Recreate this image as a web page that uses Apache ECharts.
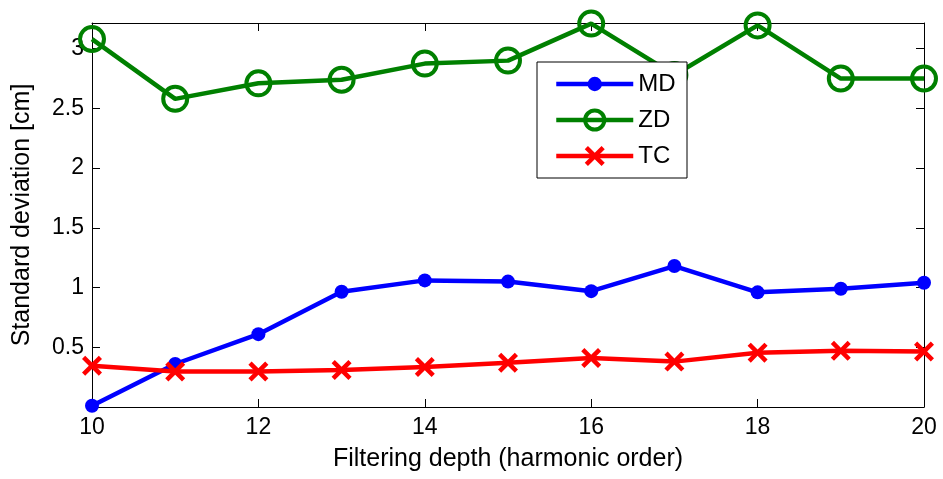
<!DOCTYPE html>
<html>
<head>
<meta charset="utf-8">
<script src="https://cdn.jsdelivr.net/npm/echarts@6/dist/echarts.min.js"></script>
<style>
html,body{margin:0;padding:0;background:#fff;}
#chart{width:943px;height:479px;}
</style>
</head>
<body>
<div id="chart"></div>
<script>
// ---- data ----
const depth = [10, 11, 12, 13, 14, 15, 16, 17, 18, 19, 20];
const md = [0.01, 0.36, 0.61, 0.965, 1.06, 1.05, 0.97, 1.18, 0.96, 0.99, 1.04];
const zd = [3.08, 2.58, 2.71, 2.74, 2.875, 2.90, 3.21, 2.78, 3.195, 2.75, 2.75];
const tc = [0.345, 0.297, 0.297, 0.31, 0.335, 0.37, 0.41, 0.38, 0.455, 0.47, 0.465];
const seriesNames = ['MD', 'ZD', 'TC'];
const xTitle = 'Filtering depth (harmonic order)';
const yTitle = 'Standard deviation [cm]';

const FONT = '"Liberation Sans", Arial, sans-serif';
const LW = 4.5;
const pairs = (ys) => depth.map((x, i) => [x, ys[i]]);
const crossPath = 'path://M1.6,0L5,3.4L8.4,0L10,1.6L6.6,5L10,8.4L8.4,10L5,6.6L1.6,10L0,8.4L3.4,5L0,1.6Z';

const chart = echarts.init(document.getElementById('chart'), null, {renderer: 'canvas'});

const axisCommonX = {
  type: 'value', min: 10, max: 20, interval: 2,
  axisLine: {show: true, onZero: false, lineStyle: {color: '#000', width: 1}},
  axisTick: {show: true, inside: true, length: 8, lineStyle: {color: '#000'}},
  splitLine: {show: false}
};
const axisCommonY = {
  type: 'value', min: 0, max: 3.215, interval: 0.5,
  axisLine: {show: true, onZero: false, lineStyle: {color: '#000', width: 1}},
  axisTick: {show: true, inside: true, length: 8, lineStyle: {color: '#000'}},
  splitLine: {show: false}
};

function legendFor(name, top, itemHeight, itemStyle) {
  return {
    data: [name], left: 554, top: top, orient: 'horizontal',
    padding: 0, itemWidth: 77, itemHeight: itemHeight, itemGap: 0,
    selectedMode: false, z: 10,
    lineStyle: {width: LW},
    itemStyle: itemStyle,
    textStyle: {fontFamily: FONT, fontSize: 24, color: '#000', lineHeight: 30}
  };
}

chart.setOption({
  animation: false,
  backgroundColor: '#fff',
  grid: {left: 92, right: 19, top: 23, bottom: 72, containLabel: false},
  xAxis: [
    Object.assign({}, axisCommonX, {
      position: 'bottom',
      name: xTitle, nameLocation: 'middle', nameGap: 40,
      nameTextStyle: {fontFamily: FONT, fontSize: 25, color: '#000'},
      axisLabel: {show: true, margin: 9, fontFamily: FONT, fontSize: 23, color: '#000'}
    }),
    Object.assign({}, axisCommonX, {position: 'top', axisLabel: {show: false}})
  ],
  yAxis: [
    Object.assign({}, axisCommonY, {
      position: 'left',
      name: yTitle, nameLocation: 'middle', nameGap: 57, nameRotate: 90,
      nameTextStyle: {fontFamily: FONT, fontSize: 25, color: '#000'},
      axisLabel: {show: true, margin: 8, fontFamily: FONT, fontSize: 23, color: '#000',
        showMinLabel: false, showMaxLabel: false}
    }),
    Object.assign({}, axisCommonY, {position: 'right', axisLabel: {show: false}})
  ],
  legend: [
    legendFor(seriesNames[0], 69, 18, {borderWidth: 0}),
    legendFor(seriesNames[1], 105, 24, {borderWidth: 4, borderColor: '#008000', color: 'rgba(0,0,0,0)'}),
    legendFor(seriesNames[2], 141, 25, {borderWidth: 0})
  ],
  graphic: [{
    type: 'rect', z: 9,
    shape: {x: 537, y: 62, width: 150, height: 116},
    style: {fill: '#fff', stroke: '#000', lineWidth: 1}
  }],
  series: [
    {
      name: seriesNames[0], type: 'line', data: pairs(md), clip: false,
      symbol: 'circle', symbolSize: 14, z: 3,
      lineStyle: {color: '#0000ff', width: LW},
      itemStyle: {color: '#0000ff', borderWidth: 0}
    },
    {
      name: seriesNames[1], type: 'line', data: pairs(zd), clip: false,
      symbol: 'circle', symbolSize: 24, z: 3,
      lineStyle: {color: '#008000', width: LW},
      itemStyle: {color: 'rgba(0,0,0,0)', borderColor: '#008000', borderWidth: 4}
    },
    {
      name: seriesNames[2], type: 'line', data: pairs(tc), clip: false,
      symbol: crossPath, symbolSize: 20, z: 3,
      lineStyle: {color: '#ff0000', width: LW},
      itemStyle: {color: '#ff0000', borderWidth: 0}
    }
  ]
});
</script>
</body>
</html>
